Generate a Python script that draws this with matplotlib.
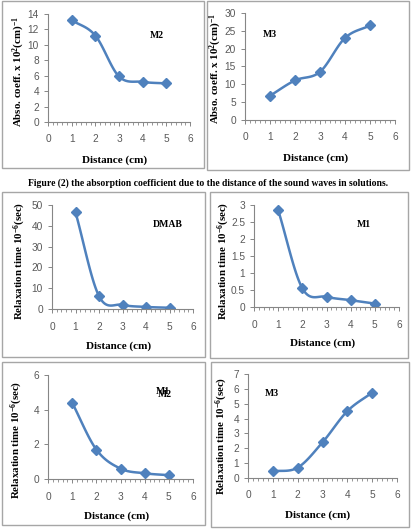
import numpy as np
import matplotlib
matplotlib.use("Agg")
import matplotlib.pyplot as plt
from matplotlib.patches import Rectangle
from matplotlib.ticker import MultipleLocator, FuncFormatter

# data
distance = [1, 2, 3, 4, 5]
abs_m2 = [13.2, 11.2, 5.9, 5.2, 5.0]
abs_m3 = [6.8, 11.1, 13.5, 23.0, 26.5]
relax_dmab = [46.5, 6.2, 2.0, 1.0, 0.6]
relax_m1 = [2.85, 0.55, 0.3, 0.2, 0.1]
relax_m2 = [4.4, 1.7, 0.6, 0.33, 0.22]
relax_m3 = [0.45, 0.7, 2.4, 4.5, 5.75]

abs_label = "Abso. coeff. x 10$^{2}$(cm)$^{-1}$"
rel_label = "Relaxation time 10$^{-6}$(sec)"
x_label = "Distance (cm)"
caption = "Figure (2) the absorption coefficient due to the distance of the sound waves in solutions."

plt.rcParams["mathtext.fontset"] = "custom"
plt.rcParams["mathtext.rm"] = "Liberation Serif:bold"
plt.rcParams["mathtext.it"] = "Liberation Serif:bold"
plt.rcParams["mathtext.bf"] = "Liberation Serif:bold"

W, H = 415, 529
blue = "#4F81BD"
tick_col = "#595959"
axis_col = "#868686"
serif = "Liberation Serif"
sans = "Liberation Sans"


def smooth(x, y, n=20):
    # catmull-rom style curve like excel "smoothed line"
    x = np.asarray(x, float)
    y = np.asarray(y, float)
    px = np.concatenate([[2 * x[0] - x[1]], x, [2 * x[-1] - x[-2]]])
    py = np.concatenate([[2 * y[0] - y[1]], y, [2 * y[-1] - y[-2]]])
    xs, ys = [], []
    t = np.linspace(0, 1, n)
    for i in range(1, len(px) - 2):
        p0x, p1x, p2x, p3x = px[i - 1:i + 3]
        p0y, p1y, p2y, p3y = py[i - 1:i + 3]
        c1x = p1x + (p2x - p0x) / 6
        c1y = p1y + (p2y - p0y) / 6
        c2x = p2x - (p3x - p1x) / 6
        c2y = p2y - (p3y - p1y) / 6
        bx = (1 - t) ** 3 * p1x + 3 * (1 - t) ** 2 * t * c1x + 3 * (1 - t) * t ** 2 * c2x + t ** 3 * p2x
        by = (1 - t) ** 3 * p1y + 3 * (1 - t) ** 2 * t * c1y + 3 * (1 - t) * t ** 2 * c2y + t ** 3 * p2y
        xs.extend(bx)
        ys.extend(by)
    return xs, ys


fig = plt.figure(figsize=(W / 100, H / 100), dpi=100)


def box(l, t, r, b):
    fig.patches.append(Rectangle((l / W, 1 - b / H), (r - l) / W, (b - t) / H,
                                 transform=fig.transFigure, fill=False,
                                 edgecolor="#A6A6A6", linewidth=1.0))


def panel(rect, y, ymax, ystep, ylabel, name, name_xy, ylab_xy):
    l, t, r, b = rect
    ax = fig.add_axes([l / W, 1 - b / H, (r - l) / W, (b - t) / H])
    sx, sy = smooth(distance, y)
    ax.plot(sx, sy, color=blue, linewidth=1.8)
    ax.plot(distance, y, linestyle="none", marker="D", markersize=5, color=blue)
    ax.set_xlim(0, 6)
    ax.set_ylim(0, ymax)
    ax.xaxis.set_major_locator(MultipleLocator(1))
    ax.xaxis.set_minor_locator(MultipleLocator(0.2))
    ax.yaxis.set_major_locator(MultipleLocator(ystep))
    ax.yaxis.set_major_formatter(FuncFormatter(lambda v, p: "%g" % v))
    for s in ["top", "right"]:
        ax.spines[s].set_visible(False)
    for s in ["left", "bottom"]:
        ax.spines[s].set_color(axis_col)
        ax.spines[s].set_linewidth(0.8)
    ax.tick_params(axis="both", colors=axis_col, labelcolor=tick_col, labelsize=7.3,
                   length=3, width=0.7, direction="out")
    ax.tick_params(axis="x", which="minor", colors=axis_col, length=2, width=0.6, direction="out")
    ax.tick_params(axis="x", pad=6)
    for lab in ax.get_xticklabels() + ax.get_yticklabels():
        lab.set_fontfamily(sans)
    ax.set_xlabel(x_label, fontfamily=serif, fontweight="bold", fontsize=8)
    ax.xaxis.set_label_coords(0.47, -0.31)
    fig.text(ylab_xy[0] / W, 1 - ylab_xy[1] / H, ylabel, rotation=90, ha="center", va="center",
             fontfamily=serif, fontweight="bold", fontsize=7.8)
    if name == "M2b":
        # the reference shows "M1" and "M2" printed on top of each other here
        ax.text(name_xy[0], name_xy[1] + ymax * 0.015, "M1", fontfamily=serif, fontweight="bold",
                fontsize=7, ha="center", va="center")
        ax.text(name_xy[0] + 0.08, name_xy[1] - ymax * 0.015, "M2", fontfamily=serif, fontweight="bold",
                fontsize=7, ha="center", va="center")
    else:
        ax.text(name_xy[0], name_xy[1], name, fontfamily=serif, fontweight="bold",
                fontsize=7, ha="center", va="center")
    return ax


box(2, 1, 204, 168)
box(207, 1, 409, 170)
box(2, 192, 205, 357)
box(210, 192, 408, 358)
box(2, 362, 205, 525)
box(211, 362, 409, 527)

panel((48, 14, 190, 122), abs_m2, 14, 2, abs_label, "M2", (4.61, 11.2), (19, 72))
panel((245, 13, 395, 120), abs_m3, 30, 5, abs_label, "M3", (1.0, 24.1), (216, 69))
panel((52, 205, 193, 309), relax_dmab, 50, 10, rel_label, "DMAB", (4.92, 40.4), (20, 261))
panel((254, 205, 399, 307), relax_m1, 3, 0.5, rel_label, "M1", (4.55, 2.44), (224, 261))
panel((48, 375, 193, 479), relax_m2, 6, 2, rel_label, "M2b", (4.75, 4.95), (17, 440))
panel((248, 374, 397, 478), relax_m3, 7, 1, rel_label, "M3", (0.95, 5.7), (222, 436))

fig.text(208 / W, 1 - 183 / H, caption, fontfamily=serif, fontweight="bold", fontsize=6.9,
         ha="center", va="center")

fig.savefig("out.png", dpi=100)
